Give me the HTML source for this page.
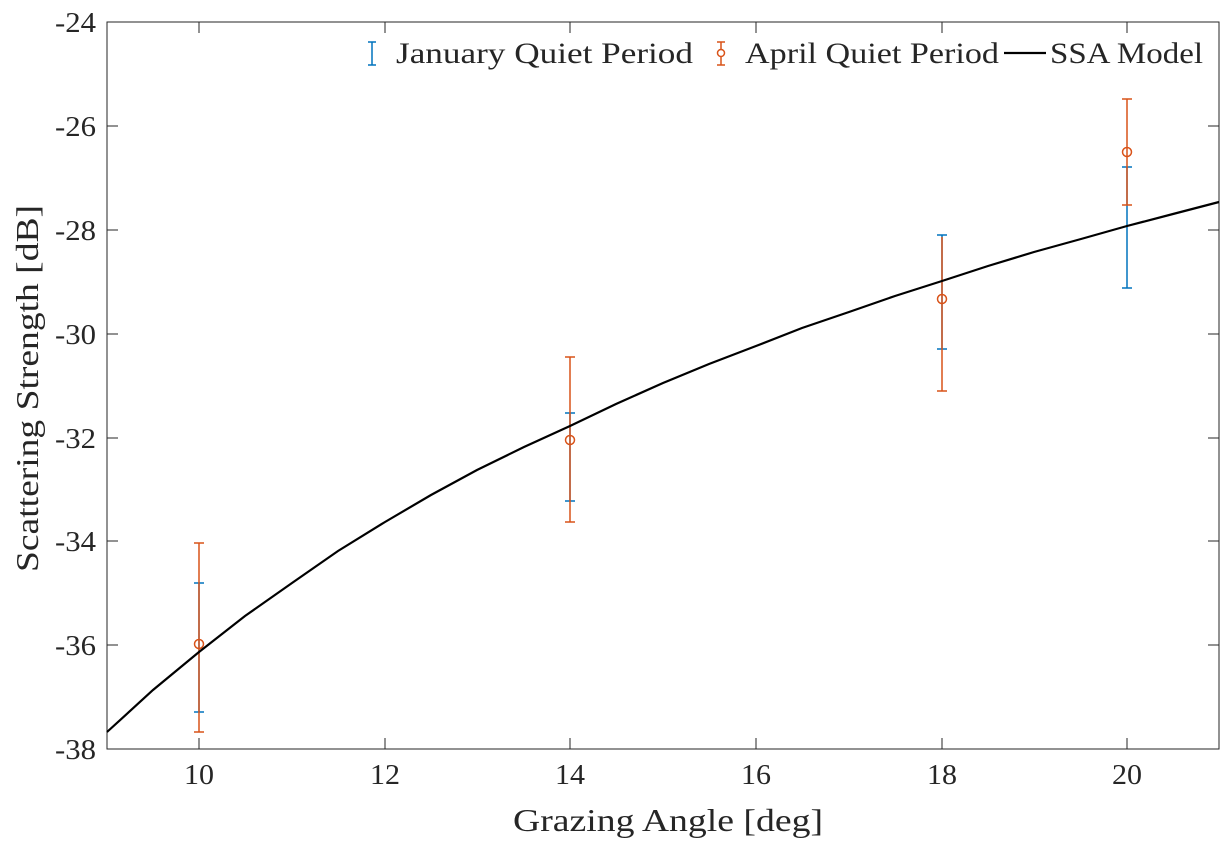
<!DOCTYPE html>
<html><head><meta charset="utf-8"><style>
html,body{margin:0;padding:0;background:#fff;}
svg text{font-family:"Liberation Serif","DejaVu Serif",serif;fill:#262626;}
</style></head><body>
<svg width="1232" height="846" viewBox="0 0 1232 846" xmlns="http://www.w3.org/2000/svg">
<rect width="1232" height="846" fill="#fff"/>
<rect x="107" y="22" width="1112" height="727" fill="#fff" stroke="#262626" stroke-width="1"/>
<g stroke="#262626" stroke-width="1">
<line x1="199" y1="749" x2="199" y2="738"/><line x1="385" y1="749" x2="385" y2="738"/><line x1="570" y1="749" x2="570" y2="738"/><line x1="756" y1="749" x2="756" y2="738"/><line x1="942" y1="749" x2="942" y2="738"/><line x1="1127" y1="749" x2="1127" y2="738"/>
<line x1="199" y1="22" x2="199" y2="33"/><line x1="385" y1="22" x2="385" y2="33"/><line x1="570" y1="22" x2="570" y2="33"/><line x1="756" y1="22" x2="756" y2="33"/><line x1="942" y1="22" x2="942" y2="33"/><line x1="1127" y1="22" x2="1127" y2="33"/>
<line x1="107" y1="126" x2="118" y2="126"/><line x1="107" y1="230" x2="118" y2="230"/><line x1="107" y1="334" x2="118" y2="334"/><line x1="107" y1="438" x2="118" y2="438"/><line x1="107" y1="541" x2="118" y2="541"/><line x1="107" y1="645" x2="118" y2="645"/>
<line x1="1219" y1="126" x2="1208" y2="126"/><line x1="1219" y1="230" x2="1208" y2="230"/><line x1="1219" y1="334" x2="1208" y2="334"/><line x1="1219" y1="438" x2="1208" y2="438"/><line x1="1219" y1="541" x2="1208" y2="541"/><line x1="1219" y1="645" x2="1208" y2="645"/>
</g>
<g font-size="28" text-anchor="middle">
<text x="199" y="784" textLength="30" lengthAdjust="spacingAndGlyphs">10</text><text x="385" y="784" textLength="30" lengthAdjust="spacingAndGlyphs">12</text><text x="570" y="784" textLength="30" lengthAdjust="spacingAndGlyphs">14</text><text x="756" y="784" textLength="30" lengthAdjust="spacingAndGlyphs">16</text><text x="942" y="784" textLength="30" lengthAdjust="spacingAndGlyphs">18</text><text x="1127" y="784" textLength="30" lengthAdjust="spacingAndGlyphs">20</text>
</g>
<g font-size="28">
<text x="55" y="32" textLength="41" lengthAdjust="spacingAndGlyphs">-24</text><text x="55" y="136" textLength="41" lengthAdjust="spacingAndGlyphs">-26</text><text x="55" y="240" textLength="41" lengthAdjust="spacingAndGlyphs">-28</text><text x="55" y="344" textLength="41" lengthAdjust="spacingAndGlyphs">-30</text><text x="55" y="448" textLength="41" lengthAdjust="spacingAndGlyphs">-32</text><text x="55" y="551" textLength="41" lengthAdjust="spacingAndGlyphs">-34</text><text x="55" y="655" textLength="41" lengthAdjust="spacingAndGlyphs">-36</text><text x="55" y="759" textLength="41" lengthAdjust="spacingAndGlyphs">-38</text>
</g>
<text x="513" y="831" font-size="32" textLength="310" lengthAdjust="spacingAndGlyphs">Grazing Angle [deg]</text>
<text transform="translate(38,572) rotate(-90)" font-size="32" textLength="367" lengthAdjust="spacingAndGlyphs">Scattering Strength [dB]</text>
<g stroke="#0072BD" stroke-width="1.5" fill="none">
<line x1="199" y1="583" x2="199" y2="712"/><line x1="194" y1="583" x2="204" y2="583"/><line x1="194" y1="712" x2="204" y2="712"/>
<line x1="570" y1="413" x2="570" y2="501"/><line x1="565" y1="413" x2="575" y2="413"/><line x1="565" y1="501" x2="575" y2="501"/>
<line x1="942" y1="235" x2="942" y2="349"/><line x1="937" y1="235" x2="947" y2="235"/><line x1="937" y1="349" x2="947" y2="349"/>
<line x1="1127" y1="167" x2="1127" y2="288"/><line x1="1122" y1="167" x2="1132" y2="167"/><line x1="1122" y1="288" x2="1132" y2="288"/>
</g>
<g stroke="#D95319" stroke-width="1.5" fill="none">
<line x1="199" y1="543" x2="199" y2="732"/><line x1="194" y1="543" x2="204" y2="543"/><line x1="194" y1="732" x2="204" y2="732"/><circle cx="199" cy="644" r="4.5"/>
<line x1="570" y1="357" x2="570" y2="522"/><line x1="565" y1="357" x2="575" y2="357"/><line x1="565" y1="522" x2="575" y2="522"/><circle cx="570" cy="440" r="4.5"/>
<line x1="942" y1="237" x2="942" y2="391"/><line x1="937" y1="391" x2="947" y2="391"/><circle cx="942" cy="299" r="4.5"/>
<line x1="1127" y1="99" x2="1127" y2="205"/><line x1="1122" y1="99" x2="1132" y2="99"/><line x1="1122" y1="205" x2="1132" y2="205"/><circle cx="1127" cy="152" r="4.5"/>
</g>
<polyline fill="none" stroke="#000" stroke-width="2.2" points="107,732 153,690 199,652 245,616 292,583 338,551 385,522 431,495 477,470 524,447 570,426 616,404 663,383 709,364 756,346 802,328 849,312 895,296 942,281 988,266 1034,252 1081,239 1127,226 1173,214 1219,202"/>
<g>
<line x1="372" y1="42" x2="372" y2="65" stroke="#0072BD" stroke-width="1.5"/><line x1="368" y1="42" x2="376" y2="42" stroke="#0072BD" stroke-width="1.5"/><line x1="368" y1="65" x2="376" y2="65" stroke="#0072BD" stroke-width="1.5"/>
<text x="396" y="63" font-size="30" textLength="297" lengthAdjust="spacingAndGlyphs">January Quiet Period</text>
<line x1="721" y1="42" x2="721" y2="65" stroke="#D95319" stroke-width="1.5"/><line x1="717" y1="42" x2="725" y2="42" stroke="#D95319" stroke-width="1.5"/><line x1="717" y1="65" x2="725" y2="65" stroke="#D95319" stroke-width="1.5"/><circle cx="721" cy="53" r="3.5" fill="#fff" stroke="#D95319" stroke-width="1.5"/>
<text x="745" y="63" font-size="30" textLength="254" lengthAdjust="spacingAndGlyphs">April Quiet Period</text>
<line x1="1004" y1="53" x2="1046" y2="53" stroke="#000" stroke-width="2.2"/>
<text x="1050" y="63" font-size="30" textLength="153" lengthAdjust="spacingAndGlyphs">SSA Model</text>
</g>
</svg>
</body></html>
